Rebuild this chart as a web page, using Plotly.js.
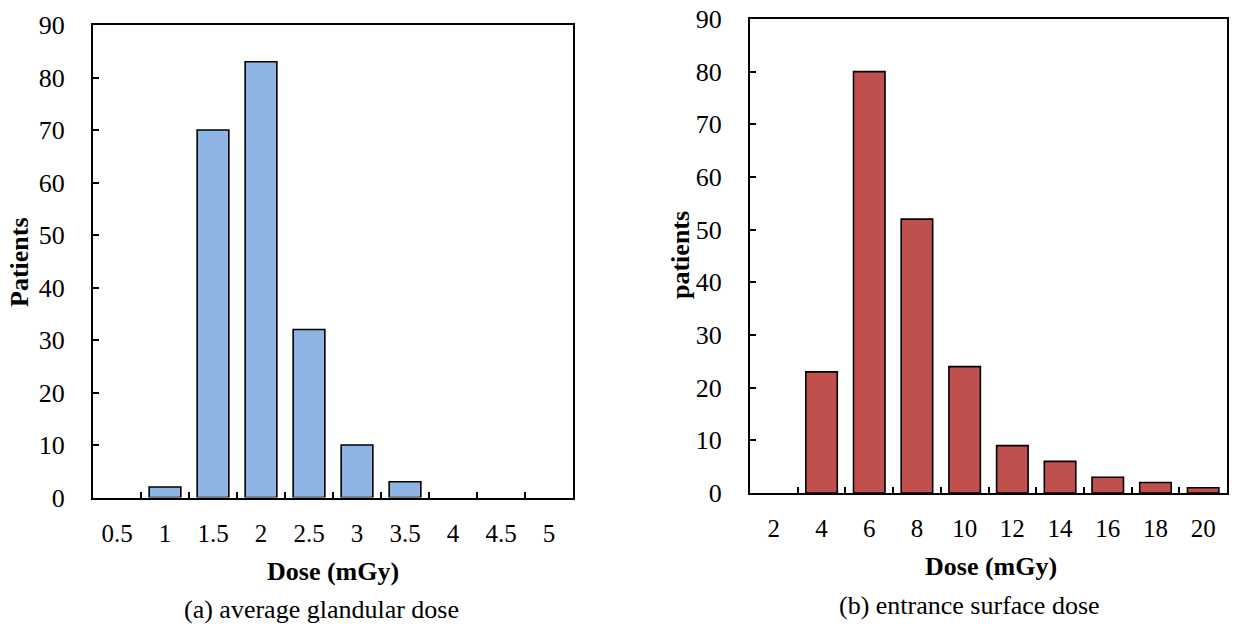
<!DOCTYPE html>
<html>
<head>
<meta charset="utf-8">
<script src="https://cdn.plot.ly/plotly-3.0.1.min.js"></script>
<style>html,body{margin:0;padding:0;background:#fff;}#chart{width:1235px;height:630px;}</style>
</head>
<body>
<div id="chart"></div>
<script>
const agdCategories = ['0.5','1','1.5','2','2.5','3','3.5','4','4.5','5'];
const agdPatients = [0, 2, 70, 83, 32, 10, 3, 0, 0, 0];
const esdCategories = ['2','4','6','8','10','12','14','16','18','20'];
const esdPatients = [0, 23, 80, 52, 24, 9, 6, 3, 2, 1];
const yTicks = [0,10,20,30,40,50,60,70,80,90];

const font = 'Liberation Serif, Times New Roman, serif';
const outline = vals => vals.map(v => v === 0 ? 0 : 1.6);

const traces = [
  {type:'bar', x: agdCategories, y: agdPatients, xaxis:'x', yaxis:'y',
   marker:{color:'#8DB4E2', line:{color:'#000', width:outline(agdPatients)}}, width:0.66, hoverinfo:'x+y'},
  {type:'bar', x: esdCategories, y: esdPatients, xaxis:'x2', yaxis:'y2',
   marker:{color:'#C0504D', line:{color:'#000', width:outline(esdPatients)}}, width:0.66, hoverinfo:'x+y'}
];

function xax(domain, anchor){
  return {domain: domain, anchor: anchor, type:'category',
    showline:true, linecolor:'#000', linewidth:2, mirror:true, layer:'above traces',
    ticks:'inside', tickson:'boundaries', ticklen:6, tickwidth:1.5, tickcolor:'#000',
    showgrid:false, zeroline:false, fixedrange:true,
    tickfont:{family:font, size:25, color:'#000'}, ticklabelstandoff:12};
}
function yax(domain, anchor){
  return {domain: domain, anchor: anchor, range:[0,90], tickvals: yTicks,
    showline:true, linecolor:'#000', linewidth:2, mirror:true, layer:'above traces',
    ticks:'inside', ticklen:6, tickwidth:1.5, tickcolor:'#000',
    showgrid:false, zeroline:false, fixedrange:true,
    tickfont:{family:font, size:26, color:'#000'}, ticklabelstandoff:21};
}

const layout = {
  width:1235, height:630,
  margin:{l:0,r:0,t:0,b:0},
  paper_bgcolor:'#fff', plot_bgcolor:'#fff',
  showlegend:false, bargap:0.34,
  font:{family:font, color:'#000'},
  xaxis: xax([93/1235, 573/1235], 'y'),
  yaxis: yax([1-497.5/630, 1-25/630], 'x'),
  xaxis2: xax([750/1235, 1227/1235], 'y2'),
  yaxis2: yax([1-493/630, 1-19/630], 'x2'),
  annotations: [
    {text:'<b>Patients</b>', xref:'paper', yref:'paper', x:19/1235, y:1-262/630, textangle:-90,
     showarrow:false, font:{family:font, size:26}, xanchor:'center', yanchor:'middle'},
    {text:'<b>patients</b>', xref:'paper', yref:'paper', x:680/1235, y:1-255/630, textangle:-90,
     showarrow:false, font:{family:font, size:26}, xanchor:'center', yanchor:'middle'},
    {text:'<b>Dose (mGy)</b>', xref:'paper', yref:'paper', x:333/1235, y:1-571/630,
     showarrow:false, font:{family:font, size:26}, xanchor:'center', yanchor:'middle'},
    {text:'<b>Dose (mGy)</b>', xref:'paper', yref:'paper', x:991/1235, y:1-566/630,
     showarrow:false, font:{family:font, size:26}, xanchor:'center', yanchor:'middle'},
    {text:'(a) average glandular dose', xref:'paper', yref:'paper', x:322/1235, y:1-609/630,
     showarrow:false, font:{family:font, size:26}, xanchor:'center', yanchor:'middle'},
    {text:'(b) entrance surface dose', xref:'paper', yref:'paper', x:969/1235, y:1-605/630,
     showarrow:false, font:{family:font, size:26}, xanchor:'center', yanchor:'middle'}
  ]
};

Plotly.newPlot('chart', traces, layout, {displayModeBar:false});
</script>
</body>
</html>
